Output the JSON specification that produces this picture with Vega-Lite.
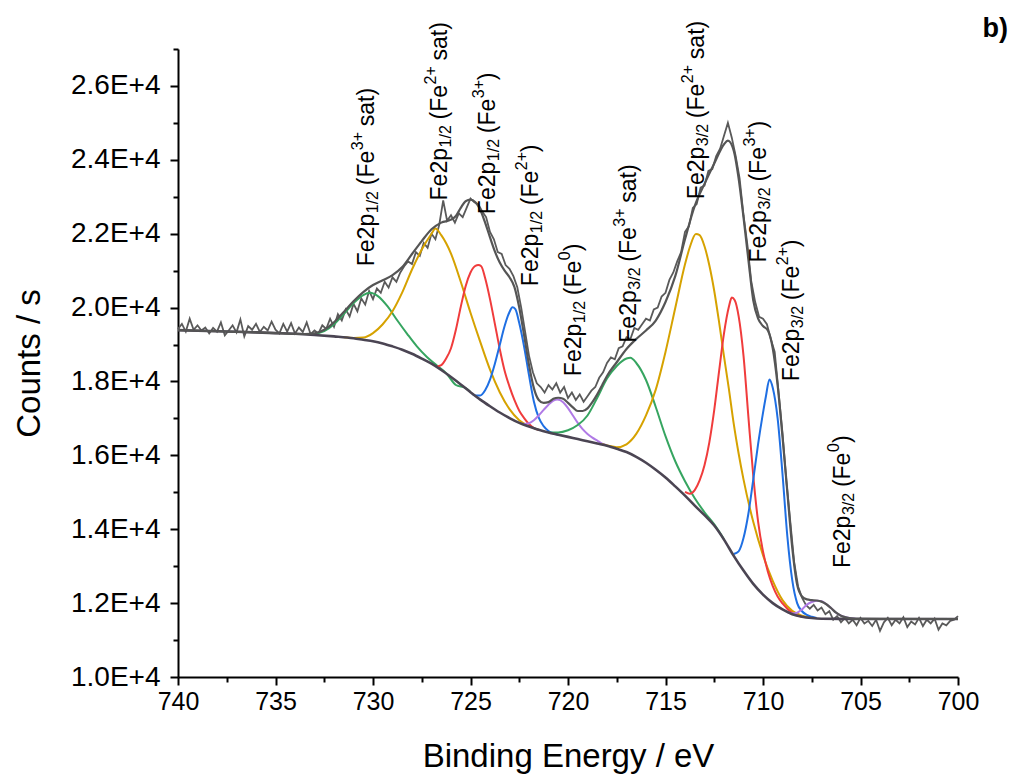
{
"$schema": "https://vega.github.io/schema/vega-lite/v6.json",
"width": 780, "height": 628,
"autosize": {"type": "none"},
"padding": {"left": 178, "top": 49, "right": 53, "bottom": 99},
"background": "white",
"config": {"view": {"stroke": null}, "font": "Liberation Sans", "axis": {"grid": false}},
"title": {"text": "b)", "anchor": "end", "frame": "group", "orient": "top", "fontSize": 27, "fontWeight": "bold", "font": "Liberation Sans", "color": "black", "dx": 50, "dy": 28, "offset": 6},
"datasets": {
"bg": [{"e":740,"y":19390},{"e":739,"y":19375},{"e":738,"y":19360},{"e":737,"y":19345},{"e":736,"y":19330},{"e":735,"y":19310},{"e":734,"y":19290},{"e":733,"y":19260},{"e":732,"y":19220},{"e":731,"y":19170},{"e":730.5,"y":19130},{"e":730,"y":19090},{"e":729.5,"y":19030},{"e":729,"y":18950},{"e":728.5,"y":18860},{"e":728,"y":18750},{"e":727.5,"y":18620},{"e":727,"y":18480},{"e":726.5,"y":18310},{"e":726,"y":18120},{"e":725.5,"y":17920},{"e":725,"y":17710},{"e":724.5,"y":17510},{"e":724,"y":17330},{"e":723.5,"y":17160},{"e":723,"y":17010},{"e":722.5,"y":16880},{"e":722,"y":16780},{"e":721.5,"y":16690},{"e":721,"y":16620},{"e":720.5,"y":16560},{"e":720,"y":16500},{"e":719.5,"y":16440},{"e":719,"y":16380},{"e":718.5,"y":16320},{"e":718,"y":16260},{"e":717.5,"y":16180},{"e":717,"y":16090},{"e":716.5,"y":15960},{"e":716,"y":15800},{"e":715.5,"y":15610},{"e":715,"y":15400},{"e":714.5,"y":15160},{"e":714,"y":14910},{"e":713.5,"y":14640},{"e":713,"y":14380},{"e":712.5,"y":14100},{"e":712,"y":13720},{"e":711.5,"y":13280},{"e":711,"y":12880},{"e":710.5,"y":12520},{"e":710,"y":12230},{"e":709.5,"y":12000},{"e":709,"y":11830},{"e":708.5,"y":11700},{"e":708,"y":11630},{"e":707.5,"y":11595},{"e":707,"y":11578},{"e":706,"y":11573},{"e":704,"y":11571},{"e":700,"y":11570}],
"env": [{"e":740,"y":19390},{"e":739,"y":19375},{"e":738,"y":19360},{"e":737,"y":19345},{"e":736,"y":19330},{"e":735,"y":19310},{"e":734,"y":19290},{"e":733.5,"y":19285},{"e":733,"y":19300},{"e":732.5,"y":19400},{"e":732,"y":19600},{"e":731.5,"y":19880},{"e":731,"y":20170},{"e":730.5,"y":20420},{"e":730,"y":20610},{"e":729.5,"y":20740},{"e":729,"y":20880},{"e":728.5,"y":21100},{"e":728,"y":21450},{"e":727.5,"y":21800},{"e":727,"y":22120},{"e":726.5,"y":22300},{"e":726,"y":22380},{"e":725.75,"y":22480},{"e":725.5,"y":22700},{"e":725.25,"y":22880},{"e":725,"y":22920},{"e":724.75,"y":22850},{"e":724.5,"y":22650},{"e":724.25,"y":22300},{"e":724,"y":21900},{"e":723.75,"y":21520},{"e":723.5,"y":21220},{"e":723.25,"y":21000},{"e":723,"y":20820},{"e":722.75,"y":20560},{"e":722.5,"y":20000},{"e":722.25,"y":19250},{"e":722,"y":18450},{"e":721.75,"y":17820},{"e":721.5,"y":17500},{"e":721.25,"y":17420},{"e":721,"y":17440},{"e":720.75,"y":17530},{"e":720.5,"y":17560},{"e":720.25,"y":17530},{"e":720,"y":17420},{"e":719.75,"y":17300},{"e":719.5,"y":17200},{"e":719.25,"y":17200},{"e":719,"y":17270},{"e":718.75,"y":17440},{"e":718.5,"y":17650},{"e":718.25,"y":17900},{"e":718,"y":18150},{"e":717.5,"y":18520},{"e":717,"y":18880},{"e":716.5,"y":19150},{"e":716,"y":19380},{"e":715.5,"y":19650},{"e":715,"y":20150},{"e":714.5,"y":20850},{"e":714,"y":21850},{"e":713.5,"y":22750},{"e":713,"y":23350},{"e":712.5,"y":23900},{"e":712,"y":24420},{"e":711.8,"y":24520},{"e":711.5,"y":24250},{"e":711.25,"y":23500},{"e":711,"y":22450},{"e":710.75,"y":21300},{"e":710.5,"y":20200},{"e":710.25,"y":19700},{"e":710,"y":19500},{"e":709.75,"y":19380},{"e":709.5,"y":18900},{"e":709.25,"y":17900},{"e":709,"y":16500},{"e":708.75,"y":15000},{"e":708.5,"y":13500},{"e":708.25,"y":12500},{"e":708,"y":12180},{"e":707.75,"y":12100},{"e":707.5,"y":12080},{"e":707.25,"y":12070},{"e":707,"y":12040},{"e":706.75,"y":11970},{"e":706.5,"y":11860},{"e":706.25,"y":11740},{"e":706,"y":11660},{"e":705.75,"y":11614},{"e":705.5,"y":11589},{"e":705,"y":11572},{"e":700,"y":11570}],
"raw": [{"e":740.0,"y":19420},{"e":739.8,"y":19560},{"e":739.6,"y":19350},{"e":739.4,"y":19700},{"e":739.2,"y":19400},{"e":739.0,"y":19520},{"e":738.8,"y":19380},{"e":738.6,"y":19460},{"e":738.4,"y":19300},{"e":738.2,"y":19450},{"e":738.0,"y":19350},{"e":737.8,"y":19600},{"e":737.6,"y":19250},{"e":737.4,"y":19380},{"e":737.2,"y":19520},{"e":737.0,"y":19330},{"e":736.8,"y":19680},{"e":736.6,"y":19220},{"e":736.4,"y":19500},{"e":736.2,"y":19400},{"e":736.0,"y":19560},{"e":735.8,"y":19340},{"e":735.6,"y":19480},{"e":735.4,"y":19380},{"e":735.2,"y":19620},{"e":735.0,"y":19400},{"e":734.8,"y":19300},{"e":734.6,"y":19560},{"e":734.4,"y":19350},{"e":734.2,"y":19580},{"e":734.0,"y":19300},{"e":733.8,"y":19460},{"e":733.6,"y":19340},{"e":733.4,"y":19600},{"e":733.2,"y":19280},{"e":733.0,"y":19380},{"e":732.8,"y":19300},{"e":732.6,"y":19520},{"e":732.4,"y":19420},{"e":732.2,"y":19700},{"e":732.0,"y":19480},{"e":731.8,"y":19820},{"e":731.6,"y":19650},{"e":731.4,"y":19950},{"e":731.2,"y":19760},{"e":731.0,"y":20100},{"e":730.8,"y":19900},{"e":730.6,"y":20250},{"e":730.4,"y":20080},{"e":730.2,"y":20450},{"e":730.0,"y":20230},{"e":729.8,"y":20520},{"e":729.6,"y":20400},{"e":729.4,"y":20700},{"e":729.2,"y":20540},{"e":729.0,"y":20820},{"e":728.8,"y":20700},{"e":728.6,"y":20950},{"e":728.4,"y":21120},{"e":728.2,"y":21250},{"e":728.0,"y":21180},{"e":727.8,"y":21500},{"e":727.6,"y":21400},{"e":727.4,"y":21750},{"e":727.2,"y":21620},{"e":727.0,"y":22000},{"e":726.8,"y":21850},{"e":726.6,"y":22250},{"e":726.4,"y":22900},{"e":726.2,"y":22350},{"e":726.0,"y":22500},{"e":725.8,"y":22300},{"e":725.6,"y":22550},{"e":725.4,"y":22450},{"e":725.2,"y":22700},{"e":725.0,"y":22950},{"e":724.8,"y":22850},{"e":724.6,"y":22800},{"e":724.4,"y":22600},{"e":724.2,"y":22450},{"e":724.0,"y":22050},{"e":723.8,"y":21850},{"e":723.6,"y":21500},{"e":723.4,"y":21450},{"e":723.2,"y":21150},{"e":723.0,"y":21050},{"e":722.8,"y":20850},{"e":722.6,"y":20550},{"e":722.4,"y":20000},{"e":722.2,"y":19350},{"e":722.0,"y":18700},{"e":721.8,"y":18250},{"e":721.6,"y":17950},{"e":721.4,"y":17850},{"e":721.2,"y":17700},{"e":721.0,"y":17900},{"e":720.8,"y":17780},{"e":720.6,"y":17950},{"e":720.4,"y":17700},{"e":720.2,"y":17850},{"e":720.0,"y":17550},{"e":719.8,"y":17700},{"e":719.6,"y":17500},{"e":719.4,"y":17650},{"e":719.2,"y":17450},{"e":719.0,"y":17600},{"e":718.8,"y":17750},{"e":718.6,"y":17850},{"e":718.4,"y":18100},{"e":718.2,"y":18250},{"e":718.0,"y":18500},{"e":717.8,"y":18650},{"e":717.6,"y":18600},{"e":717.4,"y":18900},{"e":717.2,"y":18950},{"e":717.0,"y":19200},{"e":716.8,"y":19150},{"e":716.6,"y":19450},{"e":716.4,"y":19400},{"e":716.2,"y":19550},{"e":716.0,"y":19700},{"e":715.8,"y":19650},{"e":715.6,"y":19950},{"e":715.4,"y":20000},{"e":715.2,"y":20300},{"e":715.0,"y":20400},{"e":714.8,"y":20750},{"e":714.6,"y":20950},{"e":714.4,"y":21250},{"e":714.2,"y":21500},{"e":714.0,"y":22050},{"e":713.8,"y":22200},{"e":713.6,"y":22700},{"e":713.4,"y":22800},{"e":713.2,"y":23250},{"e":713.0,"y":23300},{"e":712.8,"y":23700},{"e":712.6,"y":23750},{"e":712.4,"y":24100},{"e":712.2,"y":24300},{"e":712.0,"y":24650},{"e":711.8,"y":25000},{"e":711.6,"y":24600},{"e":711.4,"y":24100},{"e":711.2,"y":23500},{"e":711.0,"y":22500},{"e":710.8,"y":21700},{"e":710.6,"y":20700},{"e":710.4,"y":20150},{"e":710.2,"y":19750},{"e":710.0,"y":19700},{"e":709.8,"y":19550},{"e":709.6,"y":19150},{"e":709.4,"y":18800},{"e":709.2,"y":17700},{"e":709.0,"y":16600},{"e":708.8,"y":15300},{"e":708.6,"y":14200},{"e":708.4,"y":13100},{"e":708.2,"y":12450},{"e":708.0,"y":12150},{"e":707.8,"y":11950},{"e":707.6,"y":11850},{"e":707.4,"y":11950},{"e":707.2,"y":11800},{"e":707.0,"y":11880},{"e":706.8,"y":11700},{"e":706.6,"y":11780},{"e":706.4,"y":11550},{"e":706.2,"y":11650},{"e":706.0,"y":11480},{"e":705.8,"y":11600},{"e":705.6,"y":11450},{"e":705.4,"y":11550},{"e":705.2,"y":11400},{"e":705.0,"y":11600},{"e":704.8,"y":11450},{"e":704.6,"y":11520},{"e":704.4,"y":11380},{"e":704.2,"y":11550},{"e":704.0,"y":11250},{"e":703.8,"y":11480},{"e":703.6,"y":11600},{"e":703.4,"y":11400},{"e":703.2,"y":11550},{"e":703.0,"y":11450},{"e":702.8,"y":11620},{"e":702.6,"y":11350},{"e":702.4,"y":11500},{"e":702.2,"y":11420},{"e":702.0,"y":11600},{"e":701.8,"y":11380},{"e":701.6,"y":11550},{"e":701.4,"y":11450},{"e":701.2,"y":11580},{"e":701.0,"y":11280},{"e":700.8,"y":11450},{"e":700.6,"y":11400},{"e":700.4,"y":11520},{"e":700.2,"y":11550},{"e":700.0,"y":11650}],
"comp": [
{"c":"Fe3+ sat","p":"1/2","e":733,"y":19280},{"c":"Fe3+ sat","p":"1/2","e":732.5,"y":19360},{"c":"Fe3+ sat","p":"1/2","e":732,"y":19550},{"c":"Fe3+ sat","p":"1/2","e":731.5,"y":19825},{"c":"Fe3+ sat","p":"1/2","e":731,"y":20120},{"c":"Fe3+ sat","p":"1/2","e":730.5,"y":20340},{"c":"Fe3+ sat","p":"1/2","e":730.15,"y":20400},{"c":"Fe3+ sat","p":"1/2","e":729.75,"y":20310},{"c":"Fe3+ sat","p":"1/2","e":729.25,"y":20030},{"c":"Fe3+ sat","p":"1/2","e":728.75,"y":19650},{"c":"Fe3+ sat","p":"1/2","e":728.25,"y":19290},{"c":"Fe3+ sat","p":"1/2","e":727.75,"y":18950},{"c":"Fe3+ sat","p":"1/2","e":727.25,"y":18670},{"c":"Fe3+ sat","p":"1/2","e":726.75,"y":18445},{"c":"Fe3+ sat","p":"1/2","e":726.25,"y":18227},{"c":"Fe3+ sat","p":"1/2","e":725.75,"y":17905},{"c":"Fe3+ sat","p":"1/2","e":725.25,"y":17818},{"c":"Fe3+ sat","p":"1/2","e":725,"y":17712},
{"c":"Fe2+ sat","p":"1/2","e":731.5,"y":19195},{"c":"Fe2+ sat","p":"1/2","e":731,"y":19180},{"c":"Fe2+ sat","p":"1/2","e":730.5,"y":19190},{"c":"Fe2+ sat","p":"1/2","e":730,"y":19310},{"c":"Fe2+ sat","p":"1/2","e":729.5,"y":19550},{"c":"Fe2+ sat","p":"1/2","e":729,"y":19900},{"c":"Fe2+ sat","p":"1/2","e":728.5,"y":20410},{"c":"Fe2+ sat","p":"1/2","e":728,"y":21030},{"c":"Fe2+ sat","p":"1/2","e":727.5,"y":21570},{"c":"Fe2+ sat","p":"1/2","e":727,"y":22000},{"c":"Fe2+ sat","p":"1/2","e":726.8,"y":22140},{"c":"Fe2+ sat","p":"1/2","e":726.5,"y":21960},{"c":"Fe2+ sat","p":"1/2","e":726,"y":21460},{"c":"Fe2+ sat","p":"1/2","e":725.5,"y":20700},{"c":"Fe2+ sat","p":"1/2","e":725,"y":19860},{"c":"Fe2+ sat","p":"1/2","e":724.5,"y":19070},{"c":"Fe2+ sat","p":"1/2","e":724,"y":18320},{"c":"Fe2+ sat","p":"1/2","e":723.5,"y":17710},{"c":"Fe2+ sat","p":"1/2","e":723,"y":17250},{"c":"Fe2+ sat","p":"1/2","e":722.5,"y":16950},{"c":"Fe2+ sat","p":"1/2","e":722,"y":16790},{"c":"Fe2+ sat","p":"1/2","e":721.5,"y":16690},
{"c":"Fe3+","p":"1/2","e":726.75,"y":18400},{"c":"Fe3+","p":"1/2","e":726.5,"y":18440},{"c":"Fe3+","p":"1/2","e":726.25,"y":18620},{"c":"Fe3+","p":"1/2","e":726,"y":18900},{"c":"Fe3+","p":"1/2","e":725.75,"y":19400},{"c":"Fe3+","p":"1/2","e":725.5,"y":20020},{"c":"Fe3+","p":"1/2","e":725.25,"y":20580},{"c":"Fe3+","p":"1/2","e":725,"y":20950},{"c":"Fe3+","p":"1/2","e":724.75,"y":21130},{"c":"Fe3+","p":"1/2","e":724.6,"y":21150},{"c":"Fe3+","p":"1/2","e":724.45,"y":21120},{"c":"Fe3+","p":"1/2","e":724.25,"y":20800},{"c":"Fe3+","p":"1/2","e":724,"y":20230},{"c":"Fe3+","p":"1/2","e":723.75,"y":19560},{"c":"Fe3+","p":"1/2","e":723.5,"y":18880},{"c":"Fe3+","p":"1/2","e":723.25,"y":18290},{"c":"Fe3+","p":"1/2","e":723,"y":17860},{"c":"Fe3+","p":"1/2","e":722.75,"y":17500},{"c":"Fe3+","p":"1/2","e":722.5,"y":17210},{"c":"Fe3+","p":"1/2","e":722.25,"y":17010},{"c":"Fe3+","p":"1/2","e":722,"y":16850},{"c":"Fe3+","p":"1/2","e":721.75,"y":16740},{"c":"Fe3+","p":"1/2","e":721.5,"y":16690},
{"c":"Fe2+","p":"1/2","e":724.9,"y":17660},{"c":"Fe2+","p":"1/2","e":724.75,"y":17620},{"c":"Fe2+","p":"1/2","e":724.5,"y":17620},{"c":"Fe2+","p":"1/2","e":724.25,"y":17760},{"c":"Fe2+","p":"1/2","e":724,"y":18050},{"c":"Fe2+","p":"1/2","e":723.75,"y":18480},{"c":"Fe2+","p":"1/2","e":723.5,"y":18990},{"c":"Fe2+","p":"1/2","e":723.25,"y":19500},{"c":"Fe2+","p":"1/2","e":723,"y":19880},{"c":"Fe2+","p":"1/2","e":722.85,"y":20010},{"c":"Fe2+","p":"1/2","e":722.7,"y":19960},{"c":"Fe2+","p":"1/2","e":722.5,"y":19580},{"c":"Fe2+","p":"1/2","e":722.25,"y":18940},{"c":"Fe2+","p":"1/2","e":722,"y":18170},{"c":"Fe2+","p":"1/2","e":721.75,"y":17460},{"c":"Fe2+","p":"1/2","e":721.5,"y":17020},{"c":"Fe2+","p":"1/2","e":721.25,"y":16790},{"c":"Fe2+","p":"1/2","e":721,"y":16660},{"c":"Fe2+","p":"1/2","e":720.75,"y":16600},{"c":"Fe2+","p":"1/2","e":720.5,"y":16565},
{"c":"Fe0","p":"1/2","e":722.5,"y":16880},{"c":"Fe0","p":"1/2","e":722.25,"y":16850},{"c":"Fe0","p":"1/2","e":722,"y":16870},{"c":"Fe0","p":"1/2","e":721.75,"y":16950},{"c":"Fe0","p":"1/2","e":721.5,"y":17080},{"c":"Fe0","p":"1/2","e":721.25,"y":17230},{"c":"Fe0","p":"1/2","e":721,"y":17370},{"c":"Fe0","p":"1/2","e":720.75,"y":17480},{"c":"Fe0","p":"1/2","e":720.55,"y":17510},{"c":"Fe0","p":"1/2","e":720.25,"y":17440},{"c":"Fe0","p":"1/2","e":720,"y":17280},{"c":"Fe0","p":"1/2","e":719.75,"y":17080},{"c":"Fe0","p":"1/2","e":719.5,"y":16880},{"c":"Fe0","p":"1/2","e":719.25,"y":16710},{"c":"Fe0","p":"1/2","e":719,"y":16580},{"c":"Fe0","p":"1/2","e":718.75,"y":16480},{"c":"Fe0","p":"1/2","e":718.5,"y":16400},{"c":"Fe0","p":"1/2","e":718.25,"y":16320},{"c":"Fe0","p":"1/2","e":718,"y":16275},
{"c":"Fe3+ sat","p":"3/2","e":721,"y":16620},{"c":"Fe3+ sat","p":"3/2","e":720.5,"y":16620},{"c":"Fe3+ sat","p":"3/2","e":720,"y":16680},{"c":"Fe3+ sat","p":"3/2","e":719.5,"y":16820},{"c":"Fe3+ sat","p":"3/2","e":719,"y":17080},{"c":"Fe3+ sat","p":"3/2","e":718.5,"y":17560},{"c":"Fe3+ sat","p":"3/2","e":718,"y":18080},{"c":"Fe3+ sat","p":"3/2","e":717.5,"y":18420},{"c":"Fe3+ sat","p":"3/2","e":717,"y":18620},{"c":"Fe3+ sat","p":"3/2","e":716.8,"y":18640},{"c":"Fe3+ sat","p":"3/2","e":716.5,"y":18500},{"c":"Fe3+ sat","p":"3/2","e":716,"y":18040},{"c":"Fe3+ sat","p":"3/2","e":715.5,"y":17310},{"c":"Fe3+ sat","p":"3/2","e":715,"y":16520},{"c":"Fe3+ sat","p":"3/2","e":714.5,"y":15840},{"c":"Fe3+ sat","p":"3/2","e":714,"y":15300},{"c":"Fe3+ sat","p":"3/2","e":713.5,"y":14840},{"c":"Fe3+ sat","p":"3/2","e":713,"y":14460},{"c":"Fe3+ sat","p":"3/2","e":712.5,"y":14130},{"c":"Fe3+ sat","p":"3/2","e":712,"y":13730},
{"c":"Fe2+ sat","p":"3/2","e":718.25,"y":16300},{"c":"Fe2+ sat","p":"3/2","e":718,"y":16270},{"c":"Fe2+ sat","p":"3/2","e":717.5,"y":16220},{"c":"Fe2+ sat","p":"3/2","e":717,"y":16300},{"c":"Fe2+ sat","p":"3/2","e":716.5,"y":16580},{"c":"Fe2+ sat","p":"3/2","e":716,"y":17080},{"c":"Fe2+ sat","p":"3/2","e":715.5,"y":17780},{"c":"Fe2+ sat","p":"3/2","e":715,"y":18800},{"c":"Fe2+ sat","p":"3/2","e":714.5,"y":19990},{"c":"Fe2+ sat","p":"3/2","e":714,"y":21170},{"c":"Fe2+ sat","p":"3/2","e":713.75,"y":21640},{"c":"Fe2+ sat","p":"3/2","e":713.44,"y":21990},{"c":"Fe2+ sat","p":"3/2","e":713.25,"y":21960},{"c":"Fe2+ sat","p":"3/2","e":713,"y":21660},{"c":"Fe2+ sat","p":"3/2","e":712.75,"y":21140},{"c":"Fe2+ sat","p":"3/2","e":712.5,"y":20450},{"c":"Fe2+ sat","p":"3/2","e":712.25,"y":19600},{"c":"Fe2+ sat","p":"3/2","e":712,"y":18680},{"c":"Fe2+ sat","p":"3/2","e":711.75,"y":17800},{"c":"Fe2+ sat","p":"3/2","e":711.5,"y":16850},{"c":"Fe2+ sat","p":"3/2","e":711.25,"y":16050},{"c":"Fe2+ sat","p":"3/2","e":711,"y":15350},{"c":"Fe2+ sat","p":"3/2","e":710.5,"y":14200},{"c":"Fe2+ sat","p":"3/2","e":710,"y":13300},{"c":"Fe2+ sat","p":"3/2","e":709.5,"y":12600},{"c":"Fe2+ sat","p":"3/2","e":709,"y":12080},{"c":"Fe2+ sat","p":"3/2","e":708.5,"y":11790},{"c":"Fe2+ sat","p":"3/2","e":708,"y":11660},{"c":"Fe2+ sat","p":"3/2","e":707.5,"y":11600},
{"c":"Fe3+","p":"3/2","e":714,"y":15010},{"c":"Fe3+","p":"3/2","e":713.75,"y":14960},{"c":"Fe3+","p":"3/2","e":713.5,"y":15060},{"c":"Fe3+","p":"3/2","e":713.25,"y":15320},{"c":"Fe3+","p":"3/2","e":713,"y":15730},{"c":"Fe3+","p":"3/2","e":712.75,"y":16360},{"c":"Fe3+","p":"3/2","e":712.5,"y":17230},{"c":"Fe3+","p":"3/2","e":712.25,"y":18290},{"c":"Fe3+","p":"3/2","e":712,"y":19300},{"c":"Fe3+","p":"3/2","e":711.75,"y":20020},{"c":"Fe3+","p":"3/2","e":711.6,"y":20270},{"c":"Fe3+","p":"3/2","e":711.45,"y":20200},{"c":"Fe3+","p":"3/2","e":711.25,"y":19770},{"c":"Fe3+","p":"3/2","e":711,"y":18700},{"c":"Fe3+","p":"3/2","e":710.75,"y":17050},{"c":"Fe3+","p":"3/2","e":710.5,"y":15450},{"c":"Fe3+","p":"3/2","e":710.25,"y":14200},{"c":"Fe3+","p":"3/2","e":710,"y":13400},{"c":"Fe3+","p":"3/2","e":709.75,"y":12850},{"c":"Fe3+","p":"3/2","e":709.5,"y":12460},{"c":"Fe3+","p":"3/2","e":709.25,"y":12180},{"c":"Fe3+","p":"3/2","e":709,"y":11990},{"c":"Fe3+","p":"3/2","e":708.5,"y":11730},{"c":"Fe3+","p":"3/2","e":708,"y":11630},
{"c":"Fe2+","p":"3/2","e":711.5,"y":13330},{"c":"Fe2+","p":"3/2","e":711.25,"y":13400},{"c":"Fe2+","p":"3/2","e":711,"y":13760},{"c":"Fe2+","p":"3/2","e":710.75,"y":14420},{"c":"Fe2+","p":"3/2","e":710.5,"y":15340},{"c":"Fe2+","p":"3/2","e":710.25,"y":16310},{"c":"Fe2+","p":"3/2","e":710,"y":17150},{"c":"Fe2+","p":"3/2","e":709.85,"y":17600},{"c":"Fe2+","p":"3/2","e":709.67,"y":18054},{"c":"Fe2+","p":"3/2","e":709.5,"y":17830},{"c":"Fe2+","p":"3/2","e":709.25,"y":17000},{"c":"Fe2+","p":"3/2","e":709,"y":15500},{"c":"Fe2+","p":"3/2","e":708.75,"y":13800},{"c":"Fe2+","p":"3/2","e":708.5,"y":12620},{"c":"Fe2+","p":"3/2","e":708.25,"y":12000},{"c":"Fe2+","p":"3/2","e":708,"y":11780},{"c":"Fe2+","p":"3/2","e":707.75,"y":11680},{"c":"Fe2+","p":"3/2","e":707.5,"y":11630},{"c":"Fe2+","p":"3/2","e":707.25,"y":11600},
{"c":"Fe0","p":"3/2","e":708.75,"y":11760},{"c":"Fe0","p":"3/2","e":708.5,"y":11720},{"c":"Fe0","p":"3/2","e":708.25,"y":11740},{"c":"Fe0","p":"3/2","e":708,"y":11830},{"c":"Fe0","p":"3/2","e":707.75,"y":11960},{"c":"Fe0","p":"3/2","e":707.5,"y":12030},{"c":"Fe0","p":"3/2","e":707.2,"y":12065},{"c":"Fe0","p":"3/2","e":707,"y":12050},{"c":"Fe0","p":"3/2","e":706.75,"y":11970},{"c":"Fe0","p":"3/2","e":706.5,"y":11860},{"c":"Fe0","p":"3/2","e":706.25,"y":11740},{"c":"Fe0","p":"3/2","e":706,"y":11660},{"c":"Fe0","p":"3/2","e":705.75,"y":11615},{"c":"Fe0","p":"3/2","e":705.5,"y":11590},{"c":"Fe0","p":"3/2","e":705.25,"y":11575}
],
"lab": [
{"e":729.95,"y":21119,"sub":"1/2","sup":"3+","tail":"sat)"},
{"e":726.19,"y":22900,"sub":"1/2","sup":"2+","tail":"sat)"},
{"e":723.72,"y":22529,"sub":"1/2","sup":"3+","tail":")"},
{"e":721.56,"y":20580,"sub":"1/2","sup":"2+","tail":")"},
{"e":719.32,"y":18144,"sub":"1/2","sup":"0","tail":")"},
{"e":716.5,"y":19050,"sub":"3/2","sup":"3+","tail":"sat)"},
{"e":713.03,"y":22936,"sub":"3/2","sup":"2+","tail":"sat)"},
{"e":709.85,"y":21219,"sub":"3/2","sup":"3+","tail":")"},
{"e":708.15,"y":18009,"sub":"3/2","sup":"2+","tail":")"},
{"e":705.54,"y":12948,"sub":"3/2","sup":"0","tail":")"}
]
},
"layer": [
{"data": {"name": "raw"}, "mark": {"type": "line", "color": "#5a5a5a", "strokeWidth": 1.8},
 "encoding": {
  "x": {"field": "e", "type": "quantitative", "scale": {"domain": [700, 740], "reverse": true, "nice": false, "zero": false},
        "axis": {"orient": "bottom", "values": [702.5, 707.5, 712.5, 717.5, 722.5, 727.5, 732.5, 737.5], "labels": false, "domain": false, "ticks": true, "tickSize": 5, "tickWidth": 2, "tickColor": "black", "title": null, "grid": false}},
  "y": {"field": "y", "type": "quantitative", "scale": {"domain": [10000, 27000], "nice": false, "zero": false},
        "axis": {"orient": "left", "values": [11000, 13000, 15000, 17000, 19000, 21000, 23000, 25000, 27000], "labels": false, "domain": false, "ticks": true, "tickSize": 5, "tickWidth": 2, "tickColor": "black", "title": null, "grid": false}}
 }},
{"data": {"name": "comp"}, "mark": {"type": "line", "strokeWidth": 2, "interpolate": "monotone"},
 "encoding": {
  "x": {"field": "e", "type": "quantitative", "scale": {"domain": [700, 740], "reverse": true, "nice": false, "zero": false}, "axis": null},
  "y": {"field": "y", "type": "quantitative", "scale": {"domain": [10000, 27000], "nice": false, "zero": false}, "axis": null},
  "color": {"field": "c", "type": "nominal", "scale": {"domain": ["Fe3+ sat", "Fe2+ sat", "Fe3+", "Fe2+", "Fe0"], "range": ["#36a560", "#d6a200", "#f03c3c", "#1f6fe3", "#b07ae6"]}, "legend": null},
  "detail": {"field": "p", "type": "nominal"}
 }},
{"data": {"name": "bg"}, "mark": {"type": "line", "color": "#4b4553", "strokeWidth": 2.6, "interpolate": "monotone"},
 "encoding": {
  "x": {"field": "e", "type": "quantitative", "scale": {"domain": [700, 740], "reverse": true, "nice": false, "zero": false}, "axis": null},
  "y": {"field": "y", "type": "quantitative", "scale": {"domain": [10000, 27000], "nice": false, "zero": false}, "axis": null}
 }},
{"data": {"name": "env"}, "mark": {"type": "line", "color": "#555555", "strokeWidth": 2.2, "interpolate": "monotone"},
 "encoding": {
  "x": {"field": "e", "type": "quantitative", "scale": {"domain": [700, 740], "reverse": true, "nice": false, "zero": false},
        "axis": {"orient": "bottom", "values": [700, 705, 710, 715, 720, 725, 730, 735, 740], "format": "d", "labelFont": "Liberation Sans", "labelFontSize": 25, "labelColor": "black", "labelPadding": 4, "labelFlush": false, "labelOverlap": false, "labelBound": false, "tickSize": 8, "tickWidth": 2, "tickColor": "black", "domainColor": "black", "domainWidth": 2, "title": "Binding Energy / eV", "titleFont": "Liberation Sans", "titleFontSize": 33, "titleFontWeight": "normal", "titleColor": "black", "titlePadding": 26, "grid": false}},
  "y": {"field": "y", "type": "quantitative", "scale": {"domain": [10000, 27000], "nice": false, "zero": false},
        "axis": {"orient": "left", "values": [10000, 12000, 14000, 16000, 18000, 20000, 22000, 24000, 26000], "labelExpr": "format(datum.value / 10000, '.1f') + 'E+4'", "labelFont": "Liberation Sans", "labelFontSize": 28, "labelColor": "black", "labelPadding": 10, "labelFlush": false, "labelOverlap": false, "labelBound": false, "tickSize": 8, "tickWidth": 2, "tickColor": "black", "domainColor": "black", "domainWidth": 2, "title": "Counts / s", "titleFont": "Liberation Sans", "titleFontSize": 33, "titleFontWeight": "normal", "titleColor": "black", "titlePadding": 24, "grid": false}}
 }},
{"data": {"name": "lab"}, "mark": {"type": "text", "angle": 270, "align": "left", "baseline": "alphabetic", "font": "Liberation Sans", "fontSize": 23, "color": "black", "dx": 0, "dy": 0},
 "encoding": {
  "x": {"field": "e", "type": "quantitative", "scale": {"domain": [700, 740], "reverse": true, "nice": false, "zero": false}, "axis": null},
  "y": {"field": "y", "type": "quantitative", "scale": {"domain": [10000, 27000], "nice": false, "zero": false}, "axis": null},
  "text": {"value": "Fe2p"}
 }},
{"data": {"name": "lab"}, "mark": {"type": "text", "angle": 270, "align": "left", "baseline": "alphabetic", "font": "Liberation Sans", "fontSize": 16, "color": "black", "dx": 53, "dy": 4},
 "encoding": {
  "x": {"field": "e", "type": "quantitative", "scale": {"domain": [700, 740], "reverse": true, "nice": false, "zero": false}, "axis": null},
  "y": {"field": "y", "type": "quantitative", "scale": {"domain": [10000, 27000], "nice": false, "zero": false}, "axis": null},
  "text": {"field": "sub"}
 }},
{"data": {"name": "lab"}, "mark": {"type": "text", "angle": 270, "align": "left", "baseline": "alphabetic", "font": "Liberation Sans", "fontSize": 23, "color": "black", "dx": 81, "dy": 0},
 "encoding": {
  "x": {"field": "e", "type": "quantitative", "scale": {"domain": [700, 740], "reverse": true, "nice": false, "zero": false}, "axis": null},
  "y": {"field": "y", "type": "quantitative", "scale": {"domain": [10000, 27000], "nice": false, "zero": false}, "axis": null},
  "text": {"value": "(Fe"}
 }},
{"data": {"name": "lab"}, "mark": {"type": "text", "angle": 270, "align": "left", "baseline": "alphabetic", "font": "Liberation Sans", "fontSize": 16, "color": "black", "dx": 116, "dy": -11},
 "encoding": {
  "x": {"field": "e", "type": "quantitative", "scale": {"domain": [700, 740], "reverse": true, "nice": false, "zero": false}, "axis": null},
  "y": {"field": "y", "type": "quantitative", "scale": {"domain": [10000, 27000], "nice": false, "zero": false}, "axis": null},
  "text": {"field": "sup"}
 }},
{"data": {"name": "lab"}, "transform": [{"filter": "datum.tail == 'sat)'"}], "mark": {"type": "text", "angle": 270, "align": "left", "baseline": "alphabetic", "font": "Liberation Sans", "fontSize": 23, "color": "black", "dx": 140, "dy": 0},
 "encoding": {
  "x": {"field": "e", "type": "quantitative", "scale": {"domain": [700, 740], "reverse": true, "nice": false, "zero": false}, "axis": null},
  "y": {"field": "y", "type": "quantitative", "scale": {"domain": [10000, 27000], "nice": false, "zero": false}, "axis": null},
  "text": {"field": "tail"}
 }},
{"data": {"name": "lab"}, "transform": [{"filter": "datum.tail == ')' && datum.sup != '0'"}], "mark": {"type": "text", "angle": 270, "align": "left", "baseline": "alphabetic", "font": "Liberation Sans", "fontSize": 23, "color": "black", "dx": 134, "dy": 0},
 "encoding": {
  "x": {"field": "e", "type": "quantitative", "scale": {"domain": [700, 740], "reverse": true, "nice": false, "zero": false}, "axis": null},
  "y": {"field": "y", "type": "quantitative", "scale": {"domain": [10000, 27000], "nice": false, "zero": false}, "axis": null},
  "text": {"field": "tail"}
 }},
{"data": {"name": "lab"}, "transform": [{"filter": "datum.sup == '0'"}], "mark": {"type": "text", "angle": 270, "align": "left", "baseline": "alphabetic", "font": "Liberation Sans", "fontSize": 23, "color": "black", "dx": 125, "dy": 0},
 "encoding": {
  "x": {"field": "e", "type": "quantitative", "scale": {"domain": [700, 740], "reverse": true, "nice": false, "zero": false}, "axis": null},
  "y": {"field": "y", "type": "quantitative", "scale": {"domain": [10000, 27000], "nice": false, "zero": false}, "axis": null},
  "text": {"field": "tail"}
 }}
],
"resolve": {"axis": {"x": "independent", "y": "independent"}}
}
